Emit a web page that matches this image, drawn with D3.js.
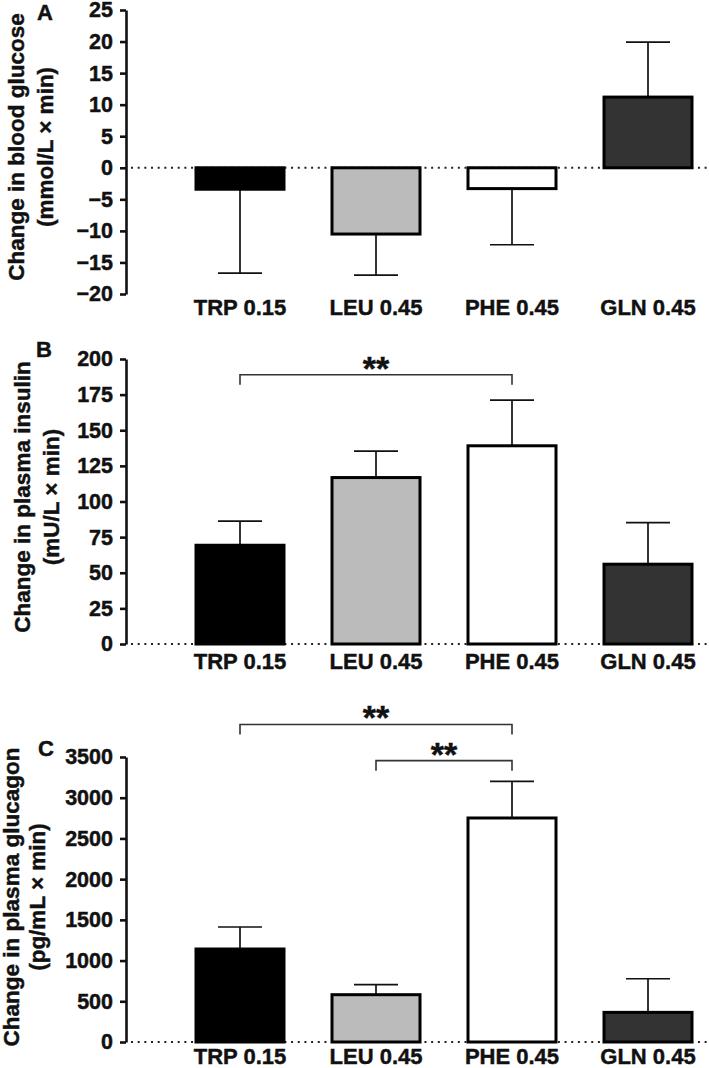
<!DOCTYPE html>
<html>
<head>
<meta charset="utf-8">
<script src="https://cdn.jsdelivr.net/npm/d3@7"></script>
<style>
  html, body { margin: 0; padding: 0; background: #fff; }
  svg { display: block; }
  text { font-family: "Liberation Sans", Arial, Helvetica, sans-serif; font-weight: bold; fill: #111; stroke: #111; stroke-width: 0.45px; }
</style>
</head>
<body>
<svg id="chart" width="709" height="1068"></svg>
<script>
// ---------- data ----------
const categories = ["TRP 0.15", "LEU 0.45", "PHE 0.45", "GLN 0.45"];
const barColors = ["#000000", "#bbbbbb", "#ffffff", "#333333"];

const glucoseMean = [-3.4, -10.5, -3.3, 11.2];
const glucoseSem  = [13.3, 6.5, 8.9, 8.7];
const glucoseTicks = [25, 20, 15, 10, 5, 0, -5, -10, -15, -20];

const insulinMean = [69.3, 116.8, 139.1, 56.0];
const insulinSem  = [16.9, 18.6, 32.1, 29.2];
const insulinTicks = [0, 25, 50, 75, 100, 125, 150, 175, 200];

const glucagonMean = [1142, 581, 2751, 364];
const glucagonSem  = [270, 123, 449, 413];
const glucagonTicks = [0, 500, 1000, 1500, 2000, 2500, 3000, 3500];

// significance brackets: [from, to, level (in axis units), label]
const insulinBrackets = [["TRP 0.15", "PHE 0.45", 189, "**"]];
const glucagonBrackets = [
  ["TRP 0.15", "PHE 0.45", 3900, "**"],
  ["LEU 0.45", "PHE 0.45", 3455, "**"]
];

// ---------- drawing ----------
const svg = d3.select("#chart");
const axisX = 126;
const x = d3.scalePoint().domain(categories).range([240, 648]);
const barW = 88;
const capW = 44;

function drawPanel(cfg) {
  const g = svg.append("g");
  const y = d3.scaleLinear().domain(cfg.domain).range(cfg.range);
  const y0 = y(0);

  // dotted zero line
  g.append("line")
    .attr("x1", 131).attr("x2", 709)
    .attr("y1", y0).attr("y2", y0)
    .attr("stroke", "#222").attr("stroke-width", 2)
    .attr("stroke-dasharray", "2,4.67");

  // error bars
  const tip = i => y(cfg.mean[i] + Math.sign(cfg.mean[i]) * cfg.sem[i]);
  const eb = g.selectAll(".eb").data(categories).enter().append("g");
  eb.append("line")
    .attr("x1", d => x(d)).attr("x2", d => x(d))
    .attr("y1", (d, i) => y(cfg.mean[i]))
    .attr("y2", (d, i) => tip(i))
    .attr("stroke", "#111").attr("stroke-width", 1.7);
  eb.append("line")
    .attr("x1", d => x(d) - capW / 2).attr("x2", d => x(d) + capW / 2)
    .attr("y1", (d, i) => tip(i)).attr("y2", (d, i) => tip(i))
    .attr("stroke", "#111").attr("stroke-width", 1.7);

  // bars
  g.selectAll(".bar").data(categories).enter().append("rect")
    .attr("x", d => x(d) - barW / 2)
    .attr("width", barW)
    .attr("y", (d, i) => Math.min(y0, y(cfg.mean[i])))
    .attr("height", (d, i) => Math.abs(y(cfg.mean[i]) - y0))
    .attr("fill", (d, i) => barColors[i])
    .attr("stroke", "#000").attr("stroke-width", 3);

  // axis
  const ax = g.append("g").attr("transform", `translate(${axisX},0)`)
    .call(d3.axisLeft(y).tickValues(cfg.ticks).tickFormat(d3.format("d"))
      .tickSize(6).tickSizeOuter(0).tickPadding(7));
  ax.select(".domain").attr("stroke", "#111").attr("stroke-width", 2.6);
  ax.selectAll(".tick line").attr("stroke", "#111").attr("stroke-width", 2.6);
  ax.selectAll(".tick text")
    .style("font-family", '"Liberation Sans", Arial, sans-serif')
    .style("font-weight", "bold").style("font-size", "21.5px").attr("fill", "#111");

  // category labels
  g.selectAll(".cat").data(categories).enter().append("text")
    .attr("x", d => x(d)).attr("y", cfg.labelY)
    .attr("text-anchor", "middle").style("font-size", "22px")
    .text(d => d);

  // y title
  cfg.title.forEach((t, i) => {
    g.append("text")
      .attr("transform", `translate(${cfg.titleX[i]},${cfg.titleY}) rotate(-90)`)
      .attr("text-anchor", "middle").style("font-size", "22.5px")
      .text(t);
  });

  // panel letter
  g.append("text").attr("x", cfg.letterX).attr("y", cfg.letterY)
    .style("font-size", "22px").text(cfg.letter);

  // brackets
  (cfg.brackets || []).forEach(b => {
    const xa = x(b[0]), xb = x(b[1]), yb = y(b[2]);
    g.append("path")
      .attr("d", `M${xa},${yb + 10}V${yb}H${xb}V${yb + 10}`)
      .attr("fill", "none").attr("stroke", "#333").attr("stroke-width", 1.6);
    g.append("text")
      .attr("x", (xa + xb) / 2).attr("y", yb + 5)
      .attr("text-anchor", "middle").style("font-size", "34px")
      .text(b[3]);
  });
}

drawPanel({
  domain: [-20, 25], range: [294, 10], ticks: glucoseTicks,
  mean: glucoseMean, sem: glucoseSem, labelY: 315,
  title: ["Change in blood glucose", "(mmol/L × min)"], titleX: [24, 53], titleY: 147,
  letter: "A", letterX: 37, letterY: 20
});
drawPanel({
  domain: [0, 200], range: [644, 359], ticks: insulinTicks,
  mean: insulinMean, sem: insulinSem, labelY: 669,
  title: ["Change in plasma insulin", "(mU/L × min)"], titleX: [30, 59], titleY: 497,
  letter: "B", letterX: 36, letterY: 357, brackets: insulinBrackets
});
drawPanel({
  domain: [0, 3500], range: [1042, 757], ticks: glucagonTicks,
  mean: glucagonMean, sem: glucagonSem, labelY: 1064,
  title: ["Change in plasma glucagon", "(pg/mL × min)"], titleX: [19, 45], titleY: 897,
  letter: "C", letterX: 38, letterY: 756, brackets: glucagonBrackets
});
</script>
</body>
</html>
